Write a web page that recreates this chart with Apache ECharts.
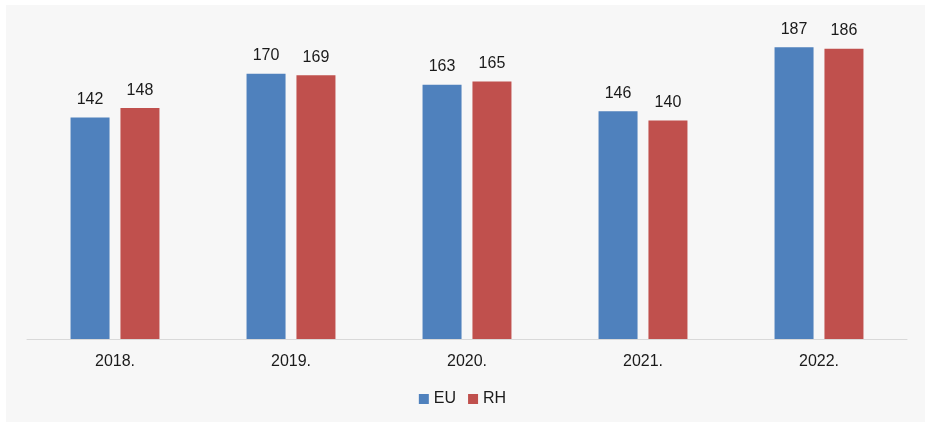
<!DOCTYPE html>
<html>
<head>
<meta charset="utf-8">
<script src="https://cdn.jsdelivr.net/npm/echarts@6/dist/echarts.min.js"></script>
<style>
    html, body { margin: 0; padding: 0; background: #ffffff; }
    #panel { position: absolute; left: 6px; top: 5px; width: 919px; height: 417px; background: #f7f7f7; }
    #chart { position: absolute; left: 0; top: 0; width: 925px; height: 422px; }
</style>
</head>
<body>
<div id="panel"></div>
<div id="chart"></div>
<script>
var years = ['2018.', '2019.', '2020.', '2021.', '2022.'];
var euData = [142, 170, 163, 146, 187];
var rhData = [148, 169, 165, 140, 186];

var chart = echarts.init(document.getElementById('chart'));

var labelStyle = {
    show: true,
    position: 'top',
    distance: 10,
    color: '#1a1a1a',
    fontSize: 16,
    fontFamily: 'Liberation Sans, Arial, sans-serif'
};

var option = {
    backgroundColor: 'transparent',
    animation: false,
    grid: {
        left: 27,
        right: 18,
        top: 27,
        bottom: 83
    },
    legend: {
        data: ['EU', 'RH'],
        bottom: 10,
        left: 'center',
        itemWidth: 10,
        itemHeight: 10,
        itemGap: 12,
        icon: 'rect',
        textStyle: {
            color: '#1a1a1a',
            fontSize: 16,
            fontFamily: 'Liberation Sans, Arial, sans-serif'
        }
    },
    xAxis: {
        type: 'category',
        data: years,
        axisLine: { lineStyle: { color: '#d9d9d9', width: 1 } },
        axisTick: { show: false },
        axisLabel: {
            color: '#1a1a1a',
            fontSize: 16,
            margin: 15,
            fontFamily: 'Liberation Sans, Arial, sans-serif'
        }
    },
    yAxis: {
        type: 'value',
        min: 0,
        max: 200,
        show: false,
        splitLine: { show: false }
    },
    series: [
        {
            name: 'EU',
            type: 'bar',
            data: euData,
            barWidth: 39,
            barGap: '28%',
            itemStyle: { color: '#4f81bd' },
            label: labelStyle
        },
        {
            name: 'RH',
            type: 'bar',
            data: rhData,
            barWidth: 39,
            barGap: '28%',
            itemStyle: { color: '#c0504d' },
            label: labelStyle
        }
    ]
};

chart.setOption(option);
</script>
</body>
</html>
